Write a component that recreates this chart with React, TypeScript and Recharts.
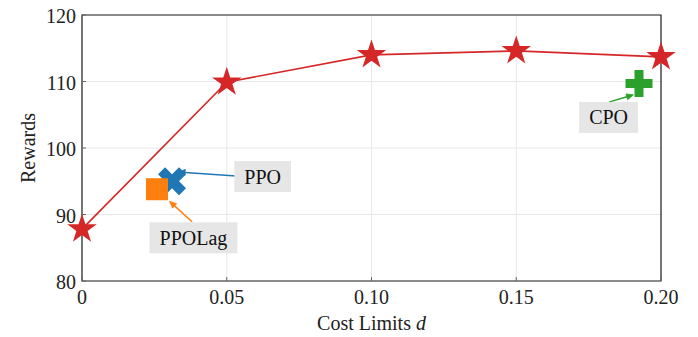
import React from "react";
import {
  CartesianGrid,
  ComposedChart,
  Line,
  ReferenceArea,
  ReferenceDot,
  ReferenceLine,
  Scatter,
  XAxis,
  YAxis,
} from "recharts";

// main curve: reward vs cost limit
const costLimits = [0, 0.05, 0.1, 0.15, 0.2];
const rewards = [87.8, 109.9, 114.0, 114.6, 113.7];

// baselines
const baselineNames = ["PPO", "PPOLag", "CPO"];
const baselineCost = [0.0311, 0.0259, 0.1924];
const baselineReward = [95.0, 93.8, 109.7];
const baselineColors = ["#1f77b4", "#ff7f0e", "#2ca02c"];

// annotation boxes (centre) and arrows (from box to marker)
const labelCost = [0.0624, 0.0385, 0.1819];
const labelReward = [95.7, 86.5, 104.6];
const arrowFrom = [
  [0.0532, 95.8],
  [0.038, 88.9],
  [0.182, 106.9],
];
const arrowTo = [
  [0.0332, 96.4],
  [0.0302, 92.0],
  [0.1905, 108.0],
];

const xTicks = [0, 0.05, 0.1, 0.15, 0.2];
const yTicks = [80, 90, 100, 110, 120];

const FONT = "'Liberation Serif', 'Times New Roman', serif";
const RED = "#d62728";

const lineData = costLimits.map((c, i) => ({ cost: c, reward: rewards[i] }));
const pointData = (i: number) => [
  { cost: baselineCost[i], reward: baselineReward[i] },
];

const starPath = (cx: number, cy: number, R: number) => {
  const r = R * 0.381966;
  let d = "";
  for (let i = 0; i < 10; i++) {
    const a = ((-90 + i * 36) * Math.PI) / 180;
    const rad = i % 2 === 0 ? R : r;
    d += (i === 0 ? "M" : "L") + (cx + rad * Math.cos(a)) + "," + (cy + rad * Math.sin(a));
  }
  return d + "Z";
};

const polyPath = (cx: number, cy: number, s: number, pts: number[][]) =>
  pts
    .map((p, i) => (i === 0 ? "M" : "L") + (cx + p[0] * s) + "," + (cy + p[1] * s))
    .join("") + "Z";

const X_PTS = [
  [-0.25, -0.5], [0, -0.25], [0.25, -0.5], [0.5, -0.25], [0.25, 0], [0.5, 0.25],
  [0.25, 0.5], [0, 0.25], [-0.25, 0.5], [-0.5, 0.25], [-0.25, 0], [-0.5, -0.25],
];
const t = 1 / 6;
const PLUS_PTS = [
  [-t, -0.5], [t, -0.5], [t, -t], [0.5, -t], [0.5, t], [t, t],
  [t, 0.5], [-t, 0.5], [-t, t], [-0.5, t], [-0.5, -t], [-t, -t],
];

let ctx: CanvasRenderingContext2D | null = null;
const textWidth = (s: string) => {
  if (!ctx) {
    ctx = document.createElement("canvas").getContext("2d");
  }
  if (!ctx) return s.length * 11;
  ctx.font = "20px 'Liberation Serif'";
  return ctx.measureText(s).width;
};

const StarDot = (props: any) => {
  const { cx, cy, index } = props;
  if (cx == null || cy == null) return <g key={index} />;
  return <path key={index} d={starPath(cx, cy, 15.5)} fill={RED} stroke="none" />;
};

const X_MARGIN = 9;
const Y_MARGIN = 6;

const XTick = (props: any) => {
  const { x, y, payload } = props;
  const v = payload.value;
  const label = v === 0 ? "0" : v.toFixed(2);
  const axisY = y - X_MARGIN;
  return (
    <g>
      <line x1={x} y1={axisY} x2={x} y2={axisY - 4} stroke="#666" strokeWidth={1} />
      <text x={x} y={y} dy="0.71em" textAnchor="middle" fill="#222" fontSize={20} fontFamily={FONT}>
        {label}
      </text>
    </g>
  );
};

const YTick = (props: any) => {
  const { x, y, payload } = props;
  const axisX = x + Y_MARGIN;
  return (
    <g>
      <line x1={axisX} y1={y} x2={axisX + 4} y2={y} stroke="#666" strokeWidth={1} />
      <text x={x} y={y} dy="0.42em" textAnchor="end" fill="#222" fontSize={20} fontFamily={FONT}>
        {payload.value}
      </text>
    </g>
  );
};

const Arrow = (color: string) => (p: any) => {
  const { x1, y1, x2, y2 } = p;
  if (x1 == null) return <g />;
  const ang = Math.atan2(y2 - y1, x2 - x1);
  const L = 7;
  const W = 3;
  const bx = x2 - L * Math.cos(ang);
  const by = y2 - L * Math.sin(ang);
  const px = -Math.sin(ang) * W;
  const py = Math.cos(ang) * W;
  return (
    <g>
      <line x1={x1} y1={y1} x2={bx} y2={by} stroke={color} strokeWidth={1.5} />
      <path
        d={`M${x2},${y2}L${bx + px},${by + py}L${bx - px},${by - py}Z`}
        fill={color}
        stroke={color}
        strokeWidth={0.8}
      />
    </g>
  );
};

const LabelBox = (text: string) => (p: any) => {
  const { cx, cy } = p;
  if (cx == null) return <g />;
  const w = textWidth(text) + 20;
  const h = 31;
  return (
    <g>
      <rect x={cx - w / 2} y={cy - h / 2} width={w} height={h} fill="#e6e6e6" />
      <text x={cx} y={cy} dy="0.35em" textAnchor="middle" fill="#111" fontSize={20} fontFamily={FONT}>
        {text}
      </text>
    </g>
  );
};

const markerShape = (i: number) => (p: any) => {
  const { cx, cy } = p;
  if (cx == null) return <g />;
  const color = baselineColors[i];
  if (i === 0) return <path d={polyPath(cx, cy, 28, X_PTS)} fill={color} />;
  if (i === 1) return <rect x={cx - 11} y={cy - 11} width={22} height={22} fill={color} />;
  return <path d={polyPath(cx, cy, 27, PLUS_PTS)} fill={color} />;
};

const XLabel = (props: any) => {
  const { viewBox } = props;
  return (
    <text
      x={viewBox.x + viewBox.width / 2}
      y={viewBox.y + 49}
      textAnchor="middle"
      fill="#222"
      fontSize={20}
      fontFamily={FONT}
    >
      Cost Limits <tspan fontStyle="italic">d</tspan>
    </text>
  );
};

const YLabel = (props: any) => {
  const { viewBox } = props;
  const cy = viewBox.y + viewBox.height / 2;
  return (
    <text
      x={35}
      y={cy}
      transform={`rotate(-90, 35, ${cy})`}
      textAnchor="middle"
      fill="#222"
      fontSize={20}
      fontFamily={FONT}
    >
      Rewards
    </text>
  );
};

export default function App() {
  return (
    <div style={{ position: "absolute", left: 0, top: 0, background: "#fff" }}>
      <ComposedChart
        width={698}
        height={337}
        data={lineData}
        margin={{ top: 15, right: 37, bottom: 0, left: 0 }}
      >
        <CartesianGrid stroke="#e8e8e8" strokeWidth={1} />
        <XAxis
          dataKey="cost"
          type="number"
          domain={[0, 0.2]}
          ticks={xTicks}
          height={56}
          axisLine={false}
          tickLine={false}
          tickSize={0}
          tickMargin={X_MARGIN}
          tick={XTick}
          interval={0}
          label={<XLabel />}
        />
        <YAxis
          dataKey="reward"
          type="number"
          domain={[80, 120]}
          ticks={yTicks}
          width={82}
          axisLine={false}
          tickLine={false}
          tickSize={0}
          tickMargin={Y_MARGIN}
          tick={YTick}
          interval={0}
          label={<YLabel />}
        />
        <ReferenceArea
          x1={0}
          x2={0.2}
          y1={80}
          y2={120}
          fill="none"
          fillOpacity={0}
          stroke="#222"
          strokeWidth={1.2}
        />
        <Line
          dataKey="reward"
          stroke={RED}
          strokeWidth={1.6}
          dot={StarDot}
          activeDot={false}
          isAnimationActive={false}
        />
        {baselineNames.map((name, i) => (
          <Scatter
            key={name}
            name={name}
            data={pointData(i)}
            shape={markerShape(i)}
            isAnimationActive={false}
          />
        ))}
        {baselineNames.map((name, i) => (
          <ReferenceLine
            key={"arrow-" + name}
            segment={[
              { x: arrowFrom[i][0], y: arrowFrom[i][1] },
              { x: arrowTo[i][0], y: arrowTo[i][1] },
            ]}
            shape={Arrow(baselineColors[i])}
            ifOverflow="visible"
          />
        ))}
        {baselineNames.map((name, i) => (
          <ReferenceDot
            key={"label-" + name}
            x={labelCost[i]}
            y={labelReward[i]}
            r={1}
            shape={LabelBox(name)}
            ifOverflow="visible"
          />
        ))}
      </ComposedChart>
    </div>
  );
}
